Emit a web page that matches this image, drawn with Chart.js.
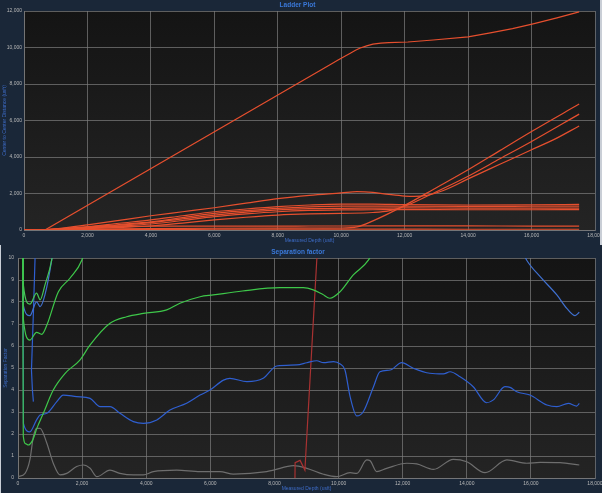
<!DOCTYPE html>
<html><head><meta charset="utf-8">
<script src="https://cdn.jsdelivr.net/npm/chart.js@4.4.1/dist/chart.umd.min.js"></script>
<style>
html,body{margin:0;padding:0;background:#1a2738;}
#wrap{position:relative;width:602px;height:493px;overflow:hidden;background:#1a2738;}
#c1{position:absolute;left:0;top:0;}
#c2{position:absolute;left:1px;top:245px;}
#edgeR{position:absolute;left:600px;top:0;width:2px;height:245px;background:#c9ced6;}
#edgeL{position:absolute;left:0;top:245px;width:1px;height:248px;background:#c9ced6;}
</style></head><body>
<div id="wrap">
<canvas id="c1" width="600" height="245"></canvas>
<canvas id="c2" width="601" height="248"></canvas>
<div id="edgeR"></div><div id="edgeL"></div>
</div>
<script>
// ---------- Ladder plot data (MD in usft, centre-to-centre distance in usft) ----------
const depthTicks = [0, 2000, 4000, 6000, 8000, 10000, 12000, 14000, 16000, 18000];
const mainMD   = [0, 660, 9700, 9900, 10100, 10300, 10450, 10600, 10800, 11000, 11250, 11500, 12100, 12900, 14000, 14700, 15400, 16050, 16800, 17500];
const mainDist = [0, 0, 9110, 9310, 9510, 9700, 9850, 9970, 10090, 10180, 10235, 10270, 10300, 10410, 10580, 10800, 11030, 11290, 11620, 11950];
const clusterMD = [0, 600, 1000, 2000, 3000, 4000, 5000, 6000, 7000, 8000, 9000, 10000, 11000, 12000, 14000, 16000, 17500];
const wellB = [0, 10, 50, 180, 370, 550, 780, 1000, 1150, 1280, 1370, 1420, 1420, 1390, 1370, 1380, 1400];
const wellC = [0, 8, 40, 150, 300, 450, 680, 910, 1060, 1190, 1270, 1310, 1310, 1300, 1290, 1300, 1310];
const wellD = [0, 6, 30, 120, 260, 400, 610, 820, 980, 1100, 1170, 1190, 1200, 1210, 1200, 1200, 1200];
const wellE = [0, 5, 25, 100, 210, 330, 520, 730, 880, 1000, 1070, 1100, 1110, 1120, 1110, 1110, 1120];
const wellG = [0, 5, 60, 150, 190, 210, 215, 215, 215, 215, 218, 220, 225, 230, 225, 215, 210];
const wellH = [0, 2, 10, 25, 30, 35, 38, 40, 40, 40, 42, 45, 45, 45, 42, 40, 40];
const wellAMD   = [0, 600, 1000, 2000, 3000, 4000, 5000, 6000, 7000, 8000, 9000, 10000, 10500, 11000, 11500, 12000, 12300, 12700, 13200, 14000, 15000, 16000, 16700, 17500];
const wellADist = [0, 10, 60, 280, 530, 780, 1000, 1220, 1470, 1720, 1900, 2030, 2100, 2060, 1950, 1860, 1840, 1900, 2150, 2800, 3600, 4400, 4950, 5700];
const wellFMD   = [0, 600, 1000, 2000, 3000, 4000, 5000, 6000, 7000, 8000, 9000, 10000, 11000, 11500, 12000, 13000, 14000, 15000, 16000, 17500];
const wellFDist = [0, 4, 20, 70, 140, 220, 380, 550, 700, 820, 880, 910, 960, 1050, 1300, 2100, 2950, 3900, 4850, 6350];
const wellRMD   = [0, 1000, 2000, 4000, 6000, 8000, 10000, 10500, 11000, 12000, 13000, 14000, 15000, 16000, 17500];
const wellRDist = [0, 20, 50, 80, 95, 100, 110, 170, 500, 1350, 2320, 3300, 4350, 5400, 6900];

// ---------- Separation factor data ----------
const sfGreenMD  = [140, 165, 250, 320, 450, 600, 790, 1100, 1470, 1930, 2250, 2870, 3390, 3910, 4640, 5050, 5680, 6090, 7000, 8170, 8900, 9210, 9500, 9730, 10050, 10460, 10930, 11300];
const sfGreen    = [14, 1.9, 1.55, 1.5, 1.7, 2.3, 2.94, 4.0, 4.76, 5.36, 6.05, 7.03, 7.33, 7.48, 7.64, 7.94, 8.24, 8.32, 8.5, 8.65, 8.65, 8.55, 8.35, 8.17, 8.47, 9.23, 9.9, 11];
const sfGreen2MD = [150, 165, 370, 580, 740, 900, 1260, 1620, 1990, 2200];
const sfGreen2   = [14, 7.26, 6.27, 6.62, 6.53, 6.95, 8.47, 9.08, 9.9, 11];
const sfGreen3MD = [150, 165, 370, 580, 690, 840, 1050, 1150];
const sfGreen3   = [14, 8.8, 7.9, 8.4, 8.1, 8.77, 9.9, 11];
const sfBlueMD = [150, 170, 370, 580, 690, 900, 1210, 1410, 1830, 2250, 2560, 2870, 3180, 3600, 3910, 4330, 4740, 5260, 5680, 5990, 6410, 6610, 7140, 7650, 8070, 8700, 9010, 9320, 9530, 9840, 10050, 10200, 10360, 10570, 10770, 11090, 11290, 11610, 11970, 12330, 12850, 13270, 13480, 13790, 14200, 14620, 14830, 15190, 15350, 15560, 15970, 16500, 16810, 17170, 17430, 17510];
const sfBlue   = [14, 2.48, 2.1, 2.64, 2.86, 2.94, 3.47, 3.77, 3.7, 3.62, 3.24, 3.24, 2.94, 2.56, 2.48, 2.64, 3.09, 3.4, 3.77, 4.0, 4.45, 4.53, 4.38, 4.53, 5.09, 5.14, 5.24, 5.33, 5.24, 5.29, 5.18, 4.91, 3.7, 2.82, 3.01, 4.15, 4.83, 4.91, 5.24, 4.99, 4.76, 4.73, 4.83, 4.6, 4.15, 3.42, 3.55, 4.15, 4.12, 3.92, 3.77, 3.32, 3.24, 3.39, 3.27, 3.39];
const sfBlue2MD = [150, 165, 370, 580, 690, 840, 1050, 1150, 15500, 15870, 16290, 16810, 17120, 17380, 17510];
const sfBlue2   = [14, 7.86, 7.38, 8.01, 7.79, 8.32, 9.9, 11, 11, 9.9, 9.15, 8.32, 7.71, 7.38, 7.53];
const sfBlue3MD = [545, 530, 480, 420, 450, 480];
const sfBlue3   = [11, 9.9, 7.5, 4.9, 4.0, 3.47];
const sfGrayMD = [0, 220, 370, 480, 580, 690, 900, 1100, 1310, 1520, 1830, 2040, 2250, 2460, 2870, 3180, 3600, 3910, 4220, 4950, 5680, 6300, 6720, 7760, 7970, 8590, 9010, 9530, 9940, 10360, 10570, 10880, 10980, 11190, 11500, 12130, 12440, 12960, 13580, 14000, 14570, 15250, 15870, 16290, 16910, 17510];
const sfGray   = [0.06, 0.21, 0.82, 1.88, 2.26, 2.26, 1.58, 0.67, 0.14, 0.21, 0.52, 0.59, 0.44, 0.06, 0.36, 0.21, 0.14, 0.14, 0.29, 0.36, 0.29, 0.29, 0.18, 0.29, 0.36, 0.56, 0.44, 0.17, 0.06, 0.24, 0.21, 0.82, 0.79, 0.29, 0.44, 0.67, 0.64, 0.39, 0.85, 0.74, 0.24, 0.82, 0.67, 0.71, 0.7, 0.59];
const sfRedMD = [8640, 8645, 8800, 8950, 9320, 9350];
const sfRed   = [0, 0.7, 0.8, 0.36, 9.9, 10.6];

// ---------- helpers ----------
const zip = (xs, ys) => xs.map((x, i) => ({x: x, y: ys[i]}));
const FONT = "'Liberation Sans', Arial, sans-serif";
const LADDER = '#e64f2e';
const GRID = 'rgba(125,125,125,0.7)';
const AXISBLUE = '#3d6cc8';

const plotBg = {
  id: 'plotBg',
  beforeDraw(chart) {
    const {ctx, chartArea: a} = chart;
    const g = ctx.createLinearGradient(0, a.top, 0, a.bottom);
    g.addColorStop(0, '#141414');
    g.addColorStop(1, '#242424');
    ctx.save();
    ctx.fillStyle = g;
    ctx.fillRect(a.left, a.top, a.right - a.left, a.bottom - a.top);
    ctx.restore();
  }
};

function lineDs(xs, ys, color, mode) {
  return {
    data: zip(xs, ys), borderColor: color, backgroundColor: color,
    borderWidth: 1.2, pointRadius: 0, fill: false,
    tension: mode === 'straight' ? 0 : 0.4,
    cubicInterpolationMode: mode === 'straight' ? 'default' : 'monotone'
  };
}

function scales(ymax, ystep, yTitle, yWidth, yPad, xHeight) {
  return {
    x: {
      type: 'linear', min: 0, max: 18000,
      afterBuildTicks(s) { s.ticks = depthTicks.map(v => ({value: v})); },
      ticks: {color: '#b8b8b8', font: {size: 5, family: FONT}, padding: 3, maxRotation: 0, autoSkip: false},
      grid: {color: GRID, lineWidth: 1, drawTicks: false},
      border: {display: true, color: GRID},
      title: {display: true, text: 'Measured Depth (usft)', color: AXISBLUE, font: {size: 5, family: FONT}, padding: {top: 0, bottom: 1}},
      afterFit(s) { s.height = xHeight; s.paddingLeft = 0; s.paddingRight = 0; }
    },
    y: {
      type: 'linear', min: 0, max: ymax,
      ticks: {stepSize: ystep, color: '#b8b8b8', font: {size: 5, family: FONT}, padding: yPad},
      grid: {color: GRID, lineWidth: 1, drawTicks: false},
      border: {display: true, color: GRID},
      title: {display: true, text: yTitle, color: AXISBLUE, font: {size: 5, family: FONT}, padding: {top: 2, bottom: 0}},
      afterFit(s) { s.width = yWidth; s.paddingTop = 0; s.paddingBottom = 0; }
    }
  };
}

new Chart(document.getElementById('c1'), {
  type: 'line',
  data: {
    datasets: [
      lineDs(mainMD, mainDist, LADDER, 'straight'),
      lineDs(wellAMD, wellADist, LADDER),
      lineDs(clusterMD, wellB, LADDER),
      lineDs(clusterMD, wellC, LADDER),
      lineDs(clusterMD, wellD, LADDER),
      lineDs(clusterMD, wellE, LADDER),
      lineDs(wellFMD, wellFDist, LADDER),
      lineDs(wellRMD, wellRDist, LADDER),
      lineDs(clusterMD, wellG, LADDER),
      lineDs(clusterMD, wellH, LADDER)
    ]
  },
  options: {
    responsive: false, animation: false,
    layout: {padding: {left: 0, right: 5, top: 0, bottom: 0}},
    plugins: {
      legend: {display: false}, tooltip: {enabled: false},
      title: {display: true, text: 'Ladder Plot', color: '#3a78d8', font: {size: 6.5, weight: 'bold', family: FONT}, padding: {top: 1, bottom: 2.2}}
    },
    scales: scales(12000, 2000, 'Center to Center Distance (usft)', 24, 2, 15)
  },
  plugins: [plotBg]
});

new Chart(document.getElementById('c2'), {
  type: 'line',
  data: {
    datasets: [
      lineDs(sfGreenMD, sfGreen, '#3ec84a'),
      lineDs(sfGreen2MD, sfGreen2, '#3ec84a'),
      lineDs(sfGreen3MD, sfGreen3, '#46c457'),
      lineDs(sfBlueMD, sfBlue, '#2f5fd0'),
      lineDs(sfBlue2MD, sfBlue2, '#3f70d0'),
      lineDs(sfBlue3MD, sfBlue3, '#2f5fd0', 'straight'),
      lineDs(sfRedMD, sfRed, '#a83232', 'straight'),
      lineDs(sfGrayMD, sfGray, '#6e6e6e')
    ]
  },
  options: {
    responsive: false, animation: false,
    layout: {padding: {left: 0, right: 7, top: 0, bottom: 0}},
    plugins: {
      legend: {display: false}, tooltip: {enabled: false},
      title: {display: true, text: 'Separation factor', color: '#3a78d8', font: {size: 6.5, weight: 'bold', family: FONT}, padding: {top: 3, bottom: 2.2}}
    },
    scales: scales(10, 1, 'Separation Factor', 17, 4, 15)
  },
  plugins: [plotBg]
});
</script>
</body></html>
